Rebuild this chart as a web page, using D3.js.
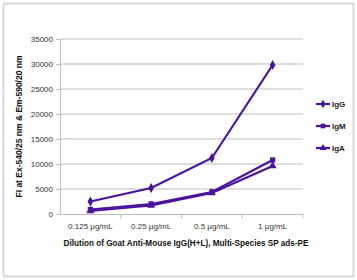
<!DOCTYPE html>
<html>
<head>
<meta charset="utf-8">
<script src="https://cdn.jsdelivr.net/npm/d3@7"></script>
<style>
  html, body { margin: 0; padding: 0; background: #fff; }
  svg { display: block; }
  text { font-family: "Liberation Sans", Arial, sans-serif; }
</style>
</head>
<body>
<div id="chart"></div>
<script>
const categories = ["0.125 µg/mL", "0.25 µg/mL", "0.5 µg/mL", "1 µg/mL"];
const seriesNames = ["IgG", "IgM", "IgA"];
const igG = [2500, 5200, 11200, 29800];
const igM = [900, 2000, 4400, 10800];
const igA = [600, 1700, 4200, 9600];
const yTicks = [0, 5000, 10000, 15000, 20000, 25000, 30000, 35000];
const xTitle = "Dilution of Goat Anti-Mouse IgG(H+L), Multi-Species SP ads-PE";
const yTitle = "FI at Ex-540/25 nm & Em-590/20 nm";

const seriesValues = [igG, igM, igA];
const W = 357, H = 280;
const m = { left: 60, right: 54, top: 39, bottom: 66 };
const color = "#4B12A0";

const svg = d3.select("#chart").append("svg").attr("width", W).attr("height", H);

// outer border
svg.append("rect").attr("x", 3.5).attr("y", 3.5).attr("width", W - 7).attr("height", H - 7)
  .attr("fill", "none").attr("stroke", "#d9d9d9").attr("stroke-width", 2);

const x = d3.scaleBand().domain(categories).range([m.left, W - m.right]);
const y = d3.scaleLinear().domain([0, 35000]).range([H - m.bottom, m.top]);

// gridlines
svg.append("g").selectAll("line").data(yTicks.filter(d => d > 0)).join("line")
  .attr("x1", m.left).attr("x2", W - m.right)
  .attr("y1", d => y(d)).attr("y2", d => y(d))
  .attr("stroke", "#bdbdbd").attr("stroke-width", 1);

// y axis
const yAxis = svg.append("g").attr("transform", `translate(${m.left},0)`)
  .call(d3.axisLeft(y).tickValues(yTicks).tickSize(4).tickPadding(3).tickFormat(d3.format("d")));
yAxis.select(".domain").attr("stroke", "#bdbdbd");
yAxis.selectAll(".tick line").attr("stroke", "#bdbdbd");
yAxis.selectAll("text").attr("font-size", 8).attr("fill", "#333");

// x axis
const xAxis = svg.append("g").attr("transform", `translate(0,${y(0)})`)
  .call(d3.axisBottom(x).tickSize(0).tickPadding(9));
xAxis.select(".domain").attr("stroke", "#bdbdbd");
xAxis.selectAll("text").attr("font-size", 8).attr("fill", "#333");
// boundary ticks
svg.append("g").selectAll("line").data(categories).join("line")
  .attr("x1", d => x(d) + x.bandwidth()).attr("x2", d => x(d) + x.bandwidth())
  .attr("y1", y(0)).attr("y2", y(0) + 4).attr("stroke", "#bdbdbd");

// lines
const line = d3.line().x((d, i) => x(categories[i]) + x.bandwidth() / 2).y(d => y(d));
const symbols = [d3.symbolDiamond, d3.symbolSquare, d3.symbolTriangle];
seriesValues.forEach((vals, si) => {
  svg.append("path").datum(vals).attr("d", line)
    .attr("fill", "none").attr("stroke", color).attr("stroke-width", 2.2);
  svg.append("g").selectAll("path").data(vals).join("path")
    .attr("transform", (d, i) => `translate(${x(categories[i]) + x.bandwidth() / 2},${y(d)})`)
    .attr("d", d3.symbol().type(symbols[si]).size(28))
    .attr("fill", color);
});

// legend
const lg = svg.append("g");
seriesNames.forEach((name, i) => {
  const ly = 104 + i * 22;
  lg.append("line").attr("x1", 316).attr("x2", 330).attr("y1", ly).attr("y2", ly)
    .attr("stroke", color).attr("stroke-width", 2.2);
  lg.append("path").attr("transform", `translate(323,${ly})`)
    .attr("d", d3.symbol().type(symbols[i]).size(22)).attr("fill", color);
  lg.append("text").attr("x", 332).attr("y", ly + 3).attr("font-size", 8)
    .attr("font-weight", "bold").attr("fill", "#222").text(name);
});

// axis titles
svg.append("text").attr("x", 186).attr("y", 246).attr("text-anchor", "middle")
  .attr("font-size", 9).attr("font-weight", "bold").attr("fill", "#111")
  .attr("textLength", 245).attr("lengthAdjust", "spacingAndGlyphs").text(xTitle);
svg.append("text").attr("transform", `translate(22,${(y(0) + y(35000)) / 2}) rotate(-90)`)
  .attr("text-anchor", "middle").attr("font-size", 9).attr("font-weight", "bold").attr("fill", "#111")
  .attr("textLength", 142).attr("lengthAdjust", "spacingAndGlyphs").text(yTitle);
</script>
</body>
</html>
